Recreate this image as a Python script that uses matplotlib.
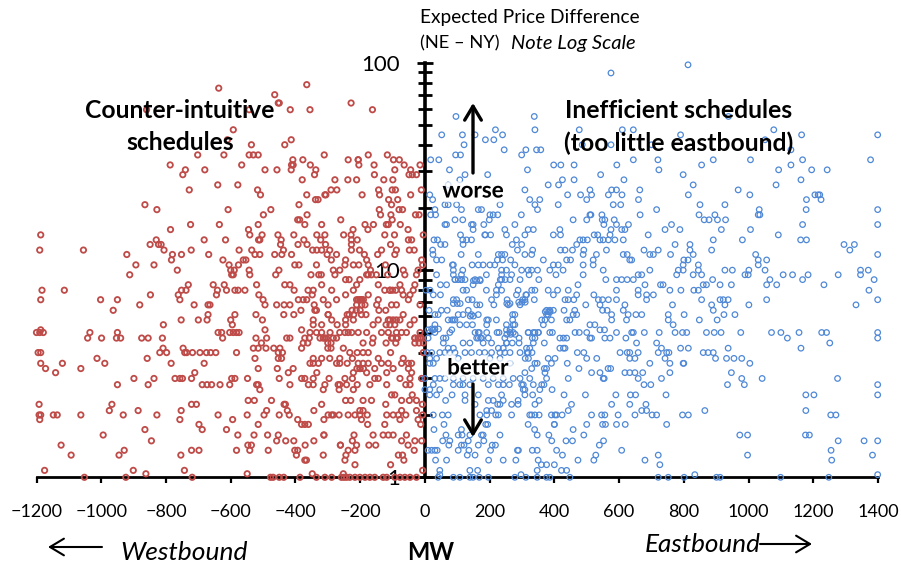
import matplotlib
matplotlib.use('Agg')
import matplotlib.pyplot as plt
import matplotlib.patheffects as pe
from matplotlib.ticker import LogLocator, NullFormatter, FixedFormatter, FixedLocator

plt.rcParams['font.family'] = ['Lato', 'DejaVu Sans']

# one list of MW values per price level
west_prices = [78.6, 75.6, 70.3, 64.1, 59.5, 47.6, 42.6, 40.3, 36, 34.1, 32.2, 30.5, 28.9, 27.3, 25.8, 24.4, 23.1,
               21.9, 20.7, 19.6, 18.5, 17.5, 16.6, 15.7, 14.8, 14, 13.3, 12.5, 11.9, 11.2, 10.6, 10,
               9.5, 9, 8.5, 8, 7.6, 7.2, 6.8, 6.4, 6.1, 5.75, 5.45, 5.15, 5, 4.7, 4.45, 4.2, 4, 3.75, 3.55, 3.35, 3.2,
               3, 2.8, 2.65, 2.5, 2.35, 2.25, 2.1, 2, 1.9, 1.8, 1.7, 1.6, 1.5, 1.43, 1.35, 1.28, 1.21, 1.15, 1.08, 1.04, 1]
west_mw = [
    [-365], [-637], [-464], [-453, -450, -228], [-860, -543, -416, -355, -162], [-592], [-413, -610], [-433, -536],
    [-702, -621, -515, -530, -543, -311, -175, -116],
    [-408, -377, -237, -206, -206, -79, -97],
    [-787, -566, -412, -407, -354, -204, -157, -64, -15],
    [-494, -457, -413, -337, -93, -44, -740, -680],
    [-748, -341, -156, -49, -39, -26],
    [-379, -211, -278, -238, -127, -99],
    [-640, -578],
    [-728, -517, -290, -272, -143, -101, -91, -11],
    [-508, -309, -306, -365, -194, -140, -44],
    [-112, -84, -338, -330],
    [-865, -389, -103],
    [-828, -608, -476, -141, -80, -69],
    [-499, -364, -137, -105, -29, -18],
    [-393, -387, -260, -101],
    [-724, -635, -515, -371, -319, -185, -159, -119, -113, -76],
    [-786, -545, -222, -176, -52],
    [-1187, -541, -503, -405, -454, -334, -309, -251, -228, -124, -94, -5],
    [-682, -616, -830, -510, -514, -444, -374, -322, -209, -227, -51, -41],
    [-849, -823, -815, -392, -446, -307, -364, -106, -227],
    [-1190, -1055, -806, -722, -574, -535, -437, -347, -334, -319, -294, -227, -202, -134, -33, -88, -48],
    [-921, -752, -780, -668, -510, -525, -464, -442, -412, -302, -273, -187, -146, -93],
    [-624, -783, -553, -561, -289, -245, -180, -10],
    [-893, -837, -605, -576, -402, -389, -335, -247, -221, -204, -175, -122, -7],
    [-765, -600, -589, -543, -451, -283, -263, -168, -67, -21],
    [-912, -461, -352, -328, -320, -278, -180, -115, -62, -26, -597, -592, -541],
    [-245, -234, -201],
    [-731, -654, -620, -520, -433, -417, -319, -211, -144, -77, -31],
    [-1183, -1114, -738, -752, -641, -613, -587, -577, -556, -404, -361, -345, -288, -221, -124, -108, -36, -72],
    [-848, -762, -644, -513, -348, -245, -175, -46, -67],
    [-1187, -950, -1002, -757, -500, -391, -376, -365, -314, -273, -206, -196, -144, -51],
    [-881, -713, -670, -664, -494, -458, -435, -417, -342, -299, -211, -149, -88, -103, -15],
    [-963, -383, -340, -335, -225, -142, -121],
    [-587, -670, -522, -436, -405, -299, -299, -234, -196, -182, -67],
    [-753, -700, -673, -600, -502, -345, -288, -245, -221, -144, -113, -33],
    [-808, -595, -345, -319, -271, -160, -108, -93, -46],
    [-1187, -494, -381],
    [-1200, -1190, -1179, -1035, -950, -639, -628, -603, -592, -574, -582, -355, -335, -319, -293, -263, -247, -237,
     -226, -206, -180, -134, -113, -88, -72, -57, -15],
    [-811, -855, -1042, -999, -875, -953, -940, -625, -522, -489, -427, -417, -371, -357, -309, -283, -273, -160,
     -103, -88, -31, -15],
    [-505, -191, -162],
    [-809, -747, -530, -515, -491, -467, -381, -252, -448],
    [-1195, -1187, -819, -798, -742, -736, -718, -695, -675, -662, -646, -582, -453, -440, -232, -209, -191, -175, -106, -5],
    [-1013, -858, -525, -453, -443, -345, -319, -294, -263, -224, -144, -67],
    [-1187, -1120, -989, -682, -784, -355, -329, -273, -263, -206, -191, -134, -113, -72, -51, -41],
    [-1172, -1063, -515, -407, -201, -155, -98, -51, -456],
    [-1141, -711, -334, -180, -221, -118, -41, -422],
    [-899, -837, -772, -757, -749, -721, -597, -587, -548, -450, -381, -371, -345, -296, -247, -224, -155, -144, -77, -46, -10],
    [-950, -855, -688, -673, -659, -633, -603, -520, -515, -417, -360, -345, -309, -268, -242, -263, -209, -170, -118, -59, -46],
    [-510, -314, -265, -221],
    [-103, -93, -39],
    [-546, -527, -474, -245, -229, -191, -165, -72, -48, -26],
    [-1192, -967, -721, -706, -435, -431, -319, -121, -8],
    [-975, -886, -753, -489, -425, -343, -201, -72, -26, -191],
    [-1192, -1187, -1148, -1136, -1063, -932, -828, -639, -549, -497, -450, -419, -299, -288, -283, -265, -237, -216,
     -201, -178, -118, -98, -82, -59, -7],
    [-1190, -757, -594, -393, -312, -196, -21, -77],
    [-698, -515, -381, -371, -360, -177, -124, -13],
    [-865, -688, -613],
    [-994, -578, -528, -486, -312, -312, -219, -160, -113, -98, -57, -453, -129],
    [-845, -458, -430, -405, -343, -224, -31, -10, -72],
    [-1124, -547, -536, -370, -261, -261, -211, -173, -152, -52],
    [-929, -721, -698, -582, -484, -541, -402, -393, -216, -33, -237],
    [-1093, -945, -754, -397, -314, -244, -82, -69],
    [-371, -366, -247, -65],
    [-106, -216],
    [-1175, -901, -743, -7],
    [-862, -549, -348, -252],
    [-1052, -924, -719, -477, -469, -450, -436, -386, -335, -309, -288, -258, -250, -242, -232, -216, -201, -185, -170,
     -155, -129, -118, -93, -77, -62, -46, -26],
]

# second pass over the crowded part next to the axis
west_more_prices = [9.5, 8, 7.2, 6.8, 6.4, 6.1, 5.75, 5.45, 4.7, 4.45, 4.2, 3.55, 3.35]
west_more_mw = [
    [-175, -165, -150], [-108, -100, -90], [-211, -201, -190, -196], [-195, -185], [-212, -200], [-240, -220],
    [-108, -98, -88, -77], [-245, -120], [-324, -314, -304, -31, -21, -11, -100, -85],
    [-376, -362, -300, -290, -31, -18, -5, -120, -90], [-290, -300], [-345, -240, -175], [-210, -200, -190],
]

east_prices = [98, 89.5, 55.2, 47.6, 45, 42.6, 40.3, 38.1, 36, 34.1, 32.2, 30.5, 28.9, 27.3, 25.8, 24.4, 23.1,
               21.9, 20.7, 19.6, 18.5, 17.5, 16.6, 15.7, 14.8, 14, 13.3, 12.5, 11.9, 11.2, 10.6, 10,
               9.5, 9, 8.5, 8, 7.6, 7.2, 6.8, 6.4, 6.1, 5.75, 5.45, 5.15, 5, 4.7, 4.45, 4.2, 4, 3.75, 3.55, 3.35, 3.2,
               3, 2.8, 2.65, 2.5, 2.35, 2.25, 2.1, 2, 1.8, 1.7, 1.6, 1.5, 1.43, 1.35, 1.28, 1.21, 1.15, 1.08, 1.03, 1]
east_mw = [
    [813], [575], [96, 338, 938],
    [1078, 218, 340, 477, 610, 644],
    [52, 116, 240, 155, 790, 1164, 1399],
    [187, 213, 1051],
    [121, 486, 575, 700],
    [245, 312, 345, 358, 1131],
    [95, 110, 299],
    [18, 43, 644, 891, 1006, 1167, 1377, 720],
    [398, 420, 593, 855, 1131, 461],
    [76, 317, 723, 1093, 1195, 1243],
    [194, 543, 798, 124],
    [108, 425, 461, 615, 1162],
    [72, 413, 381, 829, 1085],
    [577, 592, 664, 309, 510, 968],
    [1004, 1205, 1215, 441, 481, 515, 567, 609, 814, 1220, 15],
    [324, 355, 500, 660, 1179, 1224, 24],
    [62, 72, 98, 232, 340, 412, 850, 927, 582, 605],
    [113, 165, 175, 348, 1033, 1178, 1399, 716, 31],
    [225, 298, 201, 211, 510, 513, 547, 665, 896, 847, 1030, 1035, 18, 33],
    [93, 117, 199, 556, 585, 500, 458, 863, 878, 904, 929, 548],
    [62, 67, 144, 182, 278, 149, 553, 592, 629, 762, 1167, 1399],
    [417, 742, 788, 916, 1006, 335, 319, 608, 618, 149, 247, 575],
    [110, 185, 203, 252, 309, 397, 419, 523, 534, 572, 690, 1092, 187],
    [39, 117, 129, 144, 28, 283, 479, 489, 502, 541, 551, 567, 587, 613, 891, 981, 1161, 1179],
    [49, 62, 118, 270, 299, 469, 773, 819, 1295, 1327],
    [24, 286, 333, 419, 433, 456, 491, 561, 677, 721, 886, 819, 1313],
    [25, 112, 165, 227, 237, 247, 309, 330, 489, 530, 613, 625, 695, 706, 759, 829, 1022, 1399],
    [36, 52, 224, 240, 265, 366, 438, 450, 520, 633, 639, 800, 813, 1030, 1056],
    [85, 88, 146, 165, 180, 201, 216, 278, 397, 412, 489, 520, 798, 845, 1030],
    [88, 117, 237, 252, 299, 319, 330, 348, 386, 427, 551, 695, 783, 798, 845, 927, 950, 1001, 1051, 1346, 1370],
    [36, 88, 113, 190, 237, 268, 322, 405, 489, 659, 670, 778, 829, 855, 999, 989, 1107, 1136, 1184, 1277, 1346],
    [93, 113, 155, 170, 237, 263, 294, 352, 592, 608, 625, 559, 644, 889, 1167, 1066, 1388],
    [48, 67, 149, 227, 473, 680, 728, 736, 860, 870, 912, 947, 1056, 1087, 1233],
    [3, 16, 118, 129, 190, 221, 237, 288, 330, 340, 381, 410, 443, 592, 757, 791, 831, 845, 1372, 659],
    [26, 48, 221, 283, 314, 312, 397, 469, 522, 659, 685, 706],
    [88, 98, 134, 146, 206, 254, 302, 309, 338, 433, 443, 460, 536, 685, 855, 912, 922, 937, 1056, 1399, 549, 567, 592],
    [160, 170, 213, 258, 294, 497, 541, 618, 765, 886, 1001, 1332, 927],
    [13, 51, 69, 134, 376, 386, 397, 430, 463, 549, 563, 613, 891],
    [31, 41, 165, 103, 118, 144, 271, 278, 376, 381, 458, 469, 577, 628, 652, 670, 752, 801, 924, 958],
    [88, 93, 72, 83, 191, 196, 221, 271, 361, 371, 391, 438, 448, 577, 623, 848, 903, 752],
    [31, 108, 129, 147, 191, 252, 273, 278, 366, 510, 525, 767],
    [10, 26, 83, 252, 263, 541, 555],
    [15, 31, 77, 155, 165, 168, 191, 223, 229, 263, 273, 319, 340, 350, 386, 394, 464, 477, 500, 592, 639, 644, 678,
     724, 773, 796, 809, 870, 894, 915, 976, 1071, 1100, 1156, 1226, 1241, 1399],
    [10, 57, 65, 165, 175, 196, 247, 291, 332, 417, 428, 438, 510, 556, 572, 621, 1120, 1399, 515, 340],
    [57, 118, 139, 180, 206, 252, 291, 369, 335, 654, 716, 1251],
    [72, 88, 417, 227, 242, 731, 814, 790, 937, 428, 433, 324, 314, 1162],
    [7, 21, 46, 62, 77, 93, 124, 144, 168, 185, 206, 232, 247, 263, 316, 471, 491, 603, 625, 633, 659, 721, 747, 754,
     860, 875, 891, 294],
    [15, 36, 103, 201, 232, 381, 402, 500, 531, 633, 649, 898, 932, 955, 979, 742],
    [15, 26, 340, 347, 391, 440, 695, 757, 800, 798, 1004, 263],
    [330, 369, 566, 574, 476, 376],
    [309, 371, 515, 541, 618, 633, 649, 673, 757, 947],
    [0, 31, 46, 62, 88, 118, 149, 180, 211, 242, 273, 294, 324, 376, 443, 551, 554, 659, 731, 979, 1042, 1275],
    [26, 88, 108, 118, 139, 196, 227, 242, 261, 299, 304, 335, 361, 368, 677, 698, 935, 987, 1399],
    [0, 15, 46, 309, 304, 355, 393],
    [15, 36, 84, 124, 165, 309, 333, 430, 496, 590, 635, 651, 745, 1177, 1202, 1399, 237],
    [64, 124, 196, 211, 242, 288, 353],
    [155, 225, 232, 268, 288, 340, 453, 577, 633, 683],
    [443, 670, 685, 865, 1177, 191, 206],
    [26, 54, 72, 170, 191, 219, 227, 268, 324, 330, 340, 353, 391, 402, 407, 424, 515, 546, 556, 597, 649, 702, 716,
     796, 814, 1254, 1270],
    [59, 188, 194, 319, 400, 500, 549, 558, 592, 619, 747, 400],
    [28, 113, 339, 458],
    [65, 103, 115, 139, 175, 180, 232, 347, 383, 491, 973, 997, 1176, 1188],
    [55, 77, 134, 182, 392, 436, 456, 552, 1277, 1357, 1399],
    [113, 121, 165, 208, 218, 74, 539],
    [10, 21, 31, 38, 103, 136, 203, 286, 289, 332, 347, 407, 608, 1255],
    [131, 155, 425, 528, 721, 997, 1383],
    [33, 67, 197, 242, 281, 350, 473, 522, 680, 1257],
    [360, 376, 400, 726],
    [139, 163, 422, 438, 347, 46],
    [46, 297, 834, 1399],
    [41, 88, 108, 139, 149, 168, 196, 278, 312, 347, 376, 386, 448, 721, 752, 801, 901, 912, 1099, 1248],
]

east_more_prices = [9, 8.9, 7, 6.9, 6.3, 6, 5.2, 5, 4.9, 4.7, 4.45, 4, 3.75]
east_more_mw = [
    [93, 103, 113, 124, 233, 248], [150, 160, 171], [290, 300, 310], [88, 100, 109, 253, 263], [372, 382, 387],
    [140, 150], [21, 31, 42], [320, 335, 351], [253, 265, 279], [160, 172], [253, 270], [319, 331], [310, 320],
]

x_ticks = list(range(-1200, 1401, 200))
y_ticks = [1, 10, 100]
y_tick_labels = ['1', '10', '100']

west_x = []
west_y = []
for price, row in zip(west_prices + west_more_prices, west_mw + west_more_mw, strict=True):
    for mw in row:
        west_x.append(mw)
        west_y.append(price)

east_x = []
east_y = []
for price, row in zip(east_prices + east_more_prices, east_mw + east_more_mw, strict=True):
    for mw in row:
        east_x.append(mw)
        east_y.append(price)

W, H = 901, 567
fig = plt.figure(figsize=(W / 100, H / 100), dpi=100)
ax = fig.add_axes([36.5 / W, 1 - 477.3 / H, (878 - 36.5) / W, (477.3 - 63) / H])

ax.scatter(west_x, west_y, s=15, facecolors='none', edgecolors='#BE4B48', linewidths=1.3, clip_on=False, zorder=3)
ax.scatter(east_x, east_y, s=16, facecolors='none', edgecolors='#4F88D6', linewidths=0.9, clip_on=False, zorder=3)

ax.set_xlim(-1200, 1400)
ax.set_yscale('log')
ax.set_ylim(1, 100)

for side in ['top', 'right']:
    ax.spines[side].set_visible(False)
ax.spines['left'].set_position(('data', 0))
ax.spines['left'].set_linewidth(2.6)
ax.spines['bottom'].set_linewidth(2.0)
ax.spines['left'].set_zorder(1)
ax.spines['bottom'].set_zorder(1)
ax.set_axisbelow(True)

ax.set_xticks(x_ticks)
ax.tick_params(axis='x', direction='out', length=4.5, width=1.6, labelsize=13, pad=15)
ax.yaxis.set_major_locator(FixedLocator(y_ticks))
ax.yaxis.set_major_formatter(FixedFormatter(y_tick_labels))
ax.yaxis.set_minor_locator(LogLocator(base=10, subs=range(2, 10)))
ax.yaxis.set_minor_formatter(NullFormatter())
ax.tick_params(axis='y', which='major', direction='inout', length=11.5, width=2, labelsize=16, pad=12)
ax.tick_params(axis='y', which='minor', direction='inout', length=10, width=2)


def px_text(x, y, s, **kw):
    return fig.text(x / W, 1 - y / H, s, va='center', zorder=6, **kw)


def px_arrow(x0, y0, x1, y1, lw, size):
    ax.annotate('', xy=(x1, H - y1), xytext=(x0, H - y0), xycoords='figure pixels', textcoords='figure pixels',
                arrowprops=dict(arrowstyle='->,head_length=%s,head_width=%s' % (size, size * 0.6), lw=lw, color='black',
                                shrinkA=0, shrinkB=0), zorder=6, annotation_clip=False)


px_text(420, 17, 'Expected Price Difference', fontsize=13.8, color='black')
px_text(420, 43, '(NE \u2013 NY)', fontsize=13.2, color='black')
px_text(511, 43, 'Note Log Scale', fontsize=14.5, style='italic', color='black')

px_text(180, 111, 'Counter-intuitive', fontsize=17.7, fontweight='bold', ha='center')
px_text(180, 143, 'schedules', fontsize=17.7, fontweight='bold', ha='center')
px_text(679, 110, 'Inefficient schedules', fontsize=17.8, fontweight='bold', ha='center')
px_text(679, 143, '(too little eastbound)', fontsize=17.8, fontweight='bold', ha='center')

halo = [pe.withStroke(linewidth=7, foreground='white', alpha=0.75)]
px_text(473, 191, 'worse', fontsize=16.2, fontweight='bold', ha='center', path_effects=halo)
px_text(478, 368, 'better', fontsize=16, fontweight='bold', ha='center', path_effects=halo)

px_arrow(473, 173, 473, 103, 2.4, 1.0)
px_arrow(473, 384, 473, 437, 2.4, 1.0)
px_arrow(102, 547, 48, 547, 1.5, 1.0)
px_arrow(760, 544, 812, 544, 1.5, 1.0)

px_text(120, 552, 'Westbound', fontsize=19, style='italic', ha='left')
px_text(645, 544, 'Eastbound', fontsize=18.8, style='italic', ha='left')
px_text(431, 552, 'MW', fontsize=17, fontweight='bold', ha='center')

fig.savefig('out.png', dpi=100)
